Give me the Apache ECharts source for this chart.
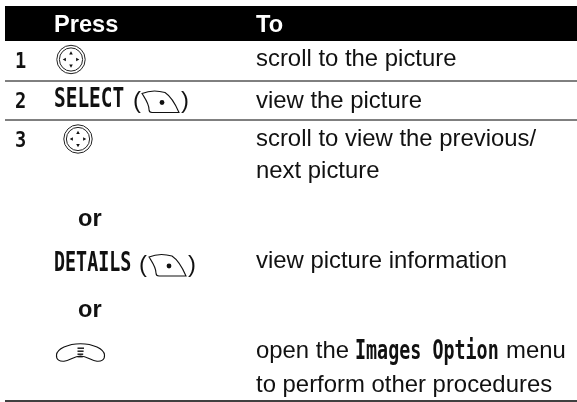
<!DOCTYPE html>
<html>
<head>
<meta charset="utf-8">
<style>
  html, body { margin: 0; padding: 0; background: #fff; }
  #chart { width: 577px; height: 402px; }
</style>
<script src="https://cdn.jsdelivr.net/npm/echarts@6/dist/echarts.min.js"></script>
</head>
<body>
<div id="chart"></div>
<script>
// Table content
const headers = ['Press', 'To'];
const stepNumbers = ['1', '2', '3'];
const softKeyLabels = ['SELECT', 'DETAILS'];
const orLabel = 'or';
const actionLines = [
  'scroll to the picture',
  'view the picture',
  'scroll to view the previous/',
  'next picture',
  'view picture information',
  'to perform other procedures',
];
const openPrefix = 'open the';
const menuName = 'Images Option';
const menuSuffix = 'menu';

// Fonts
const sans = '23.9px "Liberation Sans", Arial, sans-serif';
const bold = 'bold 23.6px "Liberation Sans", Arial, sans-serif';
const display = 'bold 27px "DejaVu Sans Mono", monospace';
const displayNum = 'bold 22px "DejaVu Sans Mono", monospace';

const chart = echarts.init(document.getElementById('chart'));

// y is the text baseline
const text = (str, x, y, font, fill, scaleX) => {
  const size = parseFloat(font.match(/([\d.]+)px/)[1]);
  return {
    type: 'text',
    x,
    y: y - size * 0.27,
    scaleX: scaleX || 1,
    style: { text: str, x: 0, y: 0, font, fill: fill || '#111', verticalAlign: 'middle' },
  };
};

const hline = (y, w) => ({
  type: 'line',
  shape: { x1: 5, y1: y, x2: 577, y2: y },
  style: { stroke: '#000', lineWidth: w },
});

const navKey = (cx, cy) => {
  const tri = (dx, dy, rot) => ({
    type: 'polygon',
    x: cx + dx,
    y: cy + dy,
    rotation: rot,
    shape: { points: [[0, -1.8], [1.8, 1.4], [-1.8, 1.4]] },
    style: { fill: '#111' },
  });
  return [
    { type: 'circle', shape: { cx, cy, r: 14.2 }, style: { fill: '#fff', stroke: '#222', lineWidth: 1 } },
    { type: 'circle', shape: { cx, cy, r: 11.6 }, style: { fill: '#fff', stroke: '#222', lineWidth: 1 } },
    tri(0, -6.5, 0),
    tri(6.5, 0, -Math.PI / 2),
    tri(0, 6.5, Math.PI),
    tri(-6.5, 0, Math.PI / 2),
  ];
};

const softKey = (x, y) => [
  {
    type: 'path',
    x,
    y,
    shape: { pathData: 'M1 3 C8 0 17 0 24 2 C30 6 35 15 38 22 L11 22 C9 22 8 21 8 19 C8 13 4 8 1 3 Z' },
    style: { fill: '#fff', stroke: '#111', lineWidth: 1.1 },
  },
  { type: 'circle', shape: { cx: x + 21, cy: y + 12, r: 2.4 }, style: { fill: '#111' } },
];

const menuKey = (x, y) => {
  const bars = [4.5, 7.5, 10.5, 13].map((dy, i) => ({
    type: 'rect',
    shape: { x: x + 21.5, y: y + dy, width: 6.5 - i * 0.4, height: 1.4 },
    style: { fill: '#111' },
  }));
  return [
    {
      type: 'path',
      x,
      y,
      shape: { pathData: 'M0.5 12 C1 6 12 0.7 24.5 0.7 C37 0.7 48 6 48.5 12 C49 17 45 18.5 41 18.2 C35 17.5 31 13 24.5 13 C18 13 14 17.5 8 18.2 C4 18.5 0 17 0.5 12 Z' },
      style: { fill: '#fff', stroke: '#111', lineWidth: 1.1 },
    },
    ...bars,
  ];
};

const elements = [
  { type: 'rect', shape: { x: 5, y: 6, width: 572, height: 35 }, style: { fill: '#000' } },
  text(headers[0], 54, 32, bold, '#fff'),
  text(headers[1], 256, 32, bold, '#fff'),

  hline(81, 1),
  hline(120, 1),
  hline(401, 1.4),

  text(stepNumbers[0], 15, 68, displayNum, '#111', 0.85),
  text(stepNumbers[1], 15, 108, displayNum, '#111', 0.85),
  text(stepNumbers[2], 15, 147, displayNum, '#111', 0.85),

  ...navKey(71, 59.5),
  text(softKeyLabels[0], 54, 107, display, '#111', 0.72),
  text('(', 133, 108, sans),
  ...softKey(141, 90.5),
  text(')', 181, 108, sans),
  ...navKey(78, 139),

  text(orLabel, 78, 226, bold),
  text(softKeyLabels[1], 54, 271, display, '#111', 0.68),
  text('(', 139, 272, sans),
  ...softKey(148, 254),
  text(')', 188, 272, sans),
  text(orLabel, 78, 317, bold),
  ...menuKey(56, 343),

  text(actionLines[0], 256, 66, sans),
  text(actionLines[1], 256, 108, sans),
  text(actionLines[2], 256, 146, sans),
  text(actionLines[3], 256, 178, sans),
  text(actionLines[4], 256, 268, sans),
  text(openPrefix, 256, 358, sans),
  text(menuName, 355, 359, display, '#111', 0.68),
  text(menuSuffix, 506, 358, sans),
  text(actionLines[5], 256, 392, sans),
];

chart.setOption({
  animation: false,
  series: [{
    type: 'custom',
    coordinateSystem: 'none',
    silent: true,
    data: [0],
    renderItem: () => ({ type: 'group', children: elements }),
  }],
});
</script>
</body>
</html>
